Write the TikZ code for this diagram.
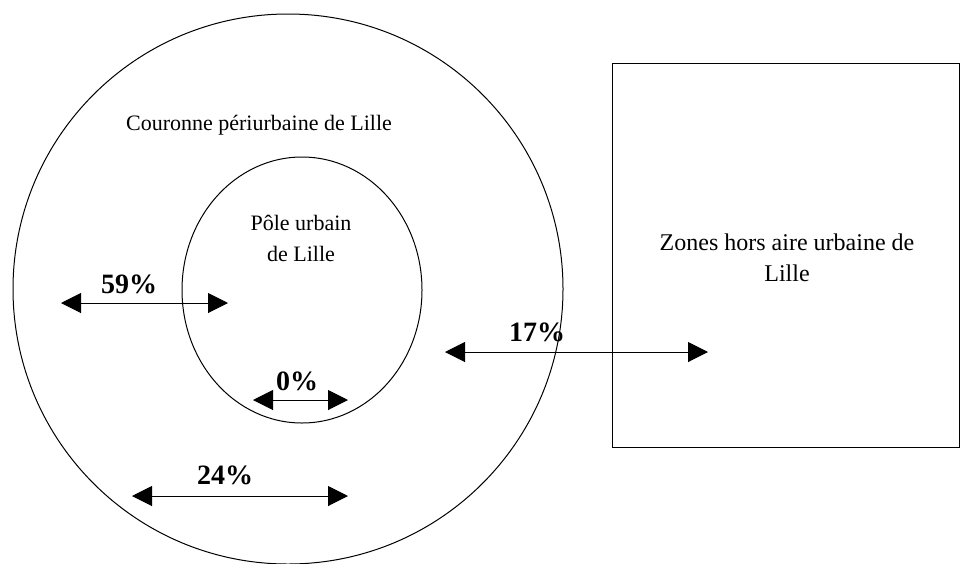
\documentclass[tikz,border=0pt]{standalone}
\usepackage{fontspec}
\setmainfont{Liberation Serif}
\usetikzlibrary{arrows.meta}

\begin{document}
\begin{tikzpicture}[x=1pt, y=-1pt, line width=1pt,
    share/.style={{Triangle[length=20pt,width=20pt]}-{Triangle[length=20pt,width=20pt]}},
    pct/.style={font=\fontsize{28}{28}\selectfont\bfseries, inner sep=0pt},
    zone/.style={font=\fontsize{22}{31}\selectfont, align=center, inner sep=0pt}]
    \useasboundingbox (0,0) rectangle (960,563);
    % zones
    \draw (288,289) circle[radius=275];
    \draw (302,290) ellipse[x radius=120, y radius=133];
    \draw (612,63) rectangle (959,447);
    \node[zone] (couronne) at (259,125) {Couronne périurbaine de Lille};
    \node[zone] (pole) at (301,238) {Pôle urbain\\de Lille};
    \node[zone, font=\fontsize{24}{31}\selectfont] (hors) at (787,258) {Zones hors aire urbaine de\\Lille};
    % flows
    \coordinate (a59l) at (61,303);
    \coordinate (a59r) at (228,303);
    \coordinate (a0l) at (253,400);
    \coordinate (a0r) at (348,400);
    \coordinate (a24l) at (132,496);
    \coordinate (a24r) at (348,496);
    \coordinate (a17l) at (445,352);
    \coordinate (a17r) at (708,352);
    \draw[share] (a59l) -- (a59r);
    \draw[share] (a0l) -- (a0r);
    \draw[share] (a24l) -- (a24r);
    \draw[share] (a17l) -- (a17r);
    \node[pct] (p59) at (129,284) {59\%};
    \node[pct] (p0) at (297,381) {0\%};
    \node[pct] (p24) at (225,475) {24\%};
    \node[pct] (p17) at (537,332) {17\%};
\end{tikzpicture}
\end{document}
